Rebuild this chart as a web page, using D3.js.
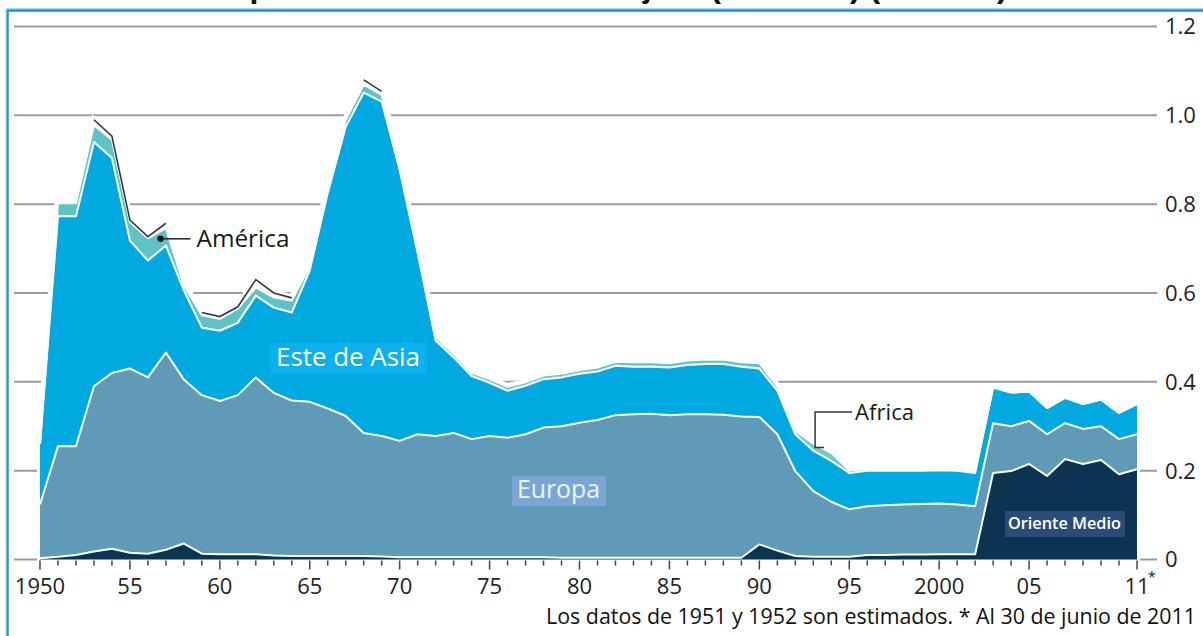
<!DOCTYPE html>
<html><head><meta charset="utf-8">
<script src="https://cdn.jsdelivr.net/npm/d3@7"></script>
<style>html,body{margin:0;padding:0;background:#fff;overflow:hidden}svg{display:block}</style>
</head><body>
<svg id="chart" width="1203" height="636"></svg>
<script>
// ---- DATA (millions) ----
const years = d3.range(1950, 2012);
const orienteMedio = [0.003,0.006,0.010,0.018,0.024,0.015,0.013,0.022,0.036,0.013,
  0.012,0.012,0.012,0.009,0.008,0.008,0.008,0.008,0.008,0.007,
  0.005,0.005,0.005,0.005,0.005,0.005,0.005,0.005,0.005,0.004,
  0.004,0.004,0.004,0.004,0.004,0.004,0.004,0.004,0.004,0.004,
  0.034,0.020,0.008,0.006,0.006,0.006,0.010,0.010,0.011,0.011,
  0.012,0.012,0.012,0.195,0.199,0.215,0.188,0.226,0.215,0.224,
  0.192,0.203];
const europa = [0.121,0.249,0.245,0.372,0.396,0.415,0.397,0.444,0.369,0.357,
  0.345,0.358,0.398,0.366,0.350,0.347,0.332,0.315,0.277,0.271,
  0.262,0.277,0.273,0.280,0.266,0.273,0.269,0.277,0.292,0.296,
  0.304,0.310,0.321,0.323,0.324,0.321,0.323,0.323,0.322,0.318,
  0.287,0.262,0.191,0.148,0.124,0.107,0.110,0.112,0.113,0.114,
  0.114,0.112,0.108,0.112,0.101,0.097,0.094,0.081,0.079,0.076,
  0.079,0.079];
const esteAsia = [0.136,0.518,0.518,0.550,0.484,0.288,0.263,0.241,0.201,0.152,
  0.158,0.163,0.184,0.192,0.198,0.296,0.485,0.651,0.766,0.753,
  0.610,0.408,0.215,0.170,0.142,0.120,0.106,0.109,0.109,0.110,
  0.110,0.109,0.111,0.107,0.106,0.107,0.111,0.113,0.114,0.112,
  0.109,0.098,0.083,0.091,0.092,0.082,0.080,0.078,0.076,0.075,
  0.075,0.076,0.075,0.080,0.076,0.066,0.059,0.057,0.056,0.060,
  0.059,0.068];
const africa = [0,0.002,0.002,0.002,0.002,0.002,0.002,0.002,0.002,0.002,
  0.002,0.002,0.002,0.002,0.002,0.002,0.002,0.002,0.002,0.002,
  0.003,0.003,0.003,0.003,0.003,0.003,0.003,0.003,0.003,0.003,
  0.003,0.003,0.003,0.003,0.003,0.003,0.003,0.003,0.003,0.003,
  0.003,0.003,0.006,0.014,0.016,0.004,0.002,0.002,0.002,0.002,
  0.002,0.002,0.002,0,0,0,0,0,0,0,
  0,0];
const america = [0,0.027,0.027,0.036,0.039,0.040,0.048,0.037,0.009,0.026,
  0.025,0.030,0.016,0.021,0.025,0.007,0.009,0.014,0.016,0.013,
  0.002,0.003,0.005,0.005,0.005,0.005,0.006,0.005,0.005,0.005,
  0.005,0.006,0.006,0.007,0.007,0.007,0.007,0.007,0.007,0.007,
  0.009,0.007,0.002,0.002,0.002,0.002,0.002,0.002,0.002,0.002,
  0.002,0.002,0.002,0,0,0,0,0,0,0,
  0,0];
const otros = [0,0,0,0.012,0.008,0.004,0.004,0.011,0,0.006,
  0.005,0.004,0.018,0.010,0.006,0,0,0,0.011,0.008,
  0,0,0,0,0,0,0,0,0,0,
  0,0,0,0,0,0,0,0,0,0,
  0,0,0,0,0,0,0,0,0,0,
  0,0,0,0,0,0,0,0,0,0,
  0,0];
const yTickValues = [0,0.2,0.4,0.6,0.8,1.0,1.2];
const yTickLabels = ["0","0.2","0.4","0.6","0.8","1.0","1.2"];
const xTickYears  = [1950,1955,1960,1965,1970,1975,1980,1985,1990,1995,2000,2005,2011];
const xTickLabels = ["1950","55","60","65","70","75","80","85","90","95","2000","05","11"];

// ---- build table ----
const keys = ["orienteMedio","europa","esteAsia","africa","america","otros"];
const src = {orienteMedio, europa, esteAsia, africa, america, otros};
const table = years.map((yr,i)=>{const o={year:yr}; keys.forEach(k=>o[k]=src[k][i]); return o;});
const colors = {orienteMedio:"#0a3452", europa:"#5f9bb6", esteAsia:"#00a9e0",
  africa:"#6ccaca", america:"#5dc3c5", otros:"#fbfbfb"};

const svg = d3.select("#chart");
const x = d3.scaleLinear().domain([1950,2011]).range([40,1137]);
const y = d3.scaleLinear().domain([0,1.2]).range([559.5,26.5]);
const FONT = "'Open Sans', 'DejaVu Sans', sans-serif";

function fit(sel, target){
  const w = sel.node().getComputedTextLength();
  const fs = parseFloat(sel.attr("font-size"));
  sel.attr("font-size", (fs*target/w).toFixed(2));
  return sel;
}

// title (cut off at top, as in the reference)
const title = svg.append("text").attr("x",200).attr("y",-3.5)
  .attr("font-family","'Liberation Sans', Arial, sans-serif").attr("font-weight","bold")
  .attr("font-size",32).attr("fill","#111")
  .text("Tropas de EE UU en el extranjero (millones) (número)");
fit(title, 808);

// frame
svg.append("path").attr("d","M7.5,636V10.5H1203").attr("fill","none")
  .attr("stroke","#1b8fd6").attr("stroke-width",2.5);
svg.append("path").attr("d","M6,636V8.6H1203").attr("fill","none")
  .attr("stroke","#a9d6f3").attr("stroke-width",1);

// gridlines
svg.append("g").selectAll("line").data(yTickValues).join("line")
  .attr("x1",14).attr("x2",1157).attr("y1",d=>y(d)).attr("y2",d=>y(d))
  .attr("stroke","#9b9b9b").attr("stroke-width",2);
svg.append("g").selectAll("text").data(yTickValues).join("text")
  .attr("x",1165).attr("y",d=>y(d)).attr("dy","0.36em")
  .attr("font-family",FONT).attr("font-size",22).attr("fill","#222")
  .text((d,i)=>yTickLabels[i]);

// stack
const series = d3.stack().keys(keys)(table);
const area = d3.area().x(d=>x(d.data.year)).y0(d=>y(d[0])).y1(d=>y(d[1]));
const topLine = d3.line().x(d=>x(d.data.year)).y(d=>y(d[1]));

// white halo under areas
svg.append("path").datum(series[series.length-1]).attr("d",topLine)
  .attr("fill","none").attr("stroke","#fff").attr("stroke-width",7).attr("stroke-linejoin","round");
svg.append("path").datum(series[series.length-1])
  .attr("d", d3.area().x(d=>x(d.data.year)).y0(y(0)).y1(d=>y(d[1])))
  .attr("fill","none").attr("stroke","#fff").attr("stroke-width",6);

svg.append("g").selectAll("path").data(series).join("path")
  .attr("d",area).attr("fill",d=>colors[d.key]);

// white separators
["orienteMedio","europa","esteAsia","america"].forEach(k=>{
  const s = series.find(d=>d.key===k);
  svg.append("path").datum(s).attr("d",topLine).attr("fill","none")
    .attr("stroke","#fff").attr("stroke-width",2).attr("stroke-linejoin","round");
});
// dark top line of "otros" where present
const otrosS = series.find(d=>d.key==="otros");
svg.append("path").datum(otrosS)
  .attr("d", d3.line().defined(d=>d.data.otros>0).x(d=>x(d.data.year)).y(d=>y(d[1])))
  .attr("fill","none").attr("stroke","#3a3a3a").attr("stroke-width",1.6);

// x axis ticks
svg.append("g").selectAll("line").data(years).join("line")
  .attr("x1",d=>x(d)).attr("x2",d=>x(d)).attr("y1",y(0)+1)
  .attr("y2",d=>y(0)+(xTickYears.includes(d)?10:6))
  .attr("stroke","#444").attr("stroke-width",1.5);
svg.append("g").selectAll("text").data(xTickYears).join("text")
  .attr("x",d=>x(d)).attr("y",594).attr("text-anchor","middle")
  .attr("font-family",FONT).attr("font-size",22).attr("fill","#222")
  .text((d,i)=>xTickLabels[i]);
svg.append("text").attr("x",x(2011)+11).attr("y",582)
  .attr("font-family",FONT).attr("font-size",14).attr("fill","#222").text("*");

// footnote
const foot = svg.append("text").attr("x",1196).attr("y",624).attr("text-anchor","end")
  .attr("font-family",FONT).attr("font-size",18).attr("fill","#111")
  .text("Los datos de 1951 y 1952 son estimados. * Al 30 de junio de 2011");
fit(foot, 650);

// labels
function boxLabel(text, bx, by, bw, bh, tx, ty, tw, fill, tcol, weight){
  svg.append("rect").attr("x",bx).attr("y",by).attr("width",bw).attr("height",bh).attr("fill",fill);
  const t = svg.append("text").attr("x",tx).attr("y",ty).attr("font-family",FONT)
    .attr("font-size",20).attr("font-weight",weight||"normal").attr("fill",tcol).text(text);
  fit(t, tw);
}
boxLabel("Este de Asia", 270, 343, 157, 31, 276, 366, 144, "#0db0ee", "#ffffff");
boxLabel("Europa", 512, 476, 94, 30, 517, 498, 83, "#7aa6d6", "#eef4ff");
boxLabel("Oriente Medio", 1005, 511, 120, 26, 1008, 529, 113, "#2a4d77", "#ffffff", "600");

// América label
const amX = x(1956.7), amY = y(0.722);
svg.append("line").attr("x1",amX).attr("x2",amX+30).attr("y1",amY).attr("y2",amY)
  .attr("stroke","#222").attr("stroke-width",1.5);
svg.append("circle").attr("cx",amX).attr("cy",amY).attr("r",3.2).attr("fill","#111");
const amT = svg.append("text").attr("x",amX+36).attr("y",amY+8).attr("font-family",FONT)
  .attr("font-size",22).attr("fill","#1a1a1a").text("América");
fit(amT, 93);

// Africa label
const afx0 = x(1993.6), afy0 = y(0.252), afx1 = x(1993.1), afy1 = y(0.332);
svg.append("path").attr("d",`M${afx0},${afy0}H${afx1}V${afy1}H${afx1+37}`)
  .attr("fill","none").attr("stroke","#333").attr("stroke-width",1.5);
const afT = svg.append("text").attr("x",afx1+40).attr("y",afy1+8).attr("font-family",FONT)
  .attr("font-size",22).attr("fill","#1a1a1a").text("Africa");
fit(afT, 59);
</script>
</body></html>
